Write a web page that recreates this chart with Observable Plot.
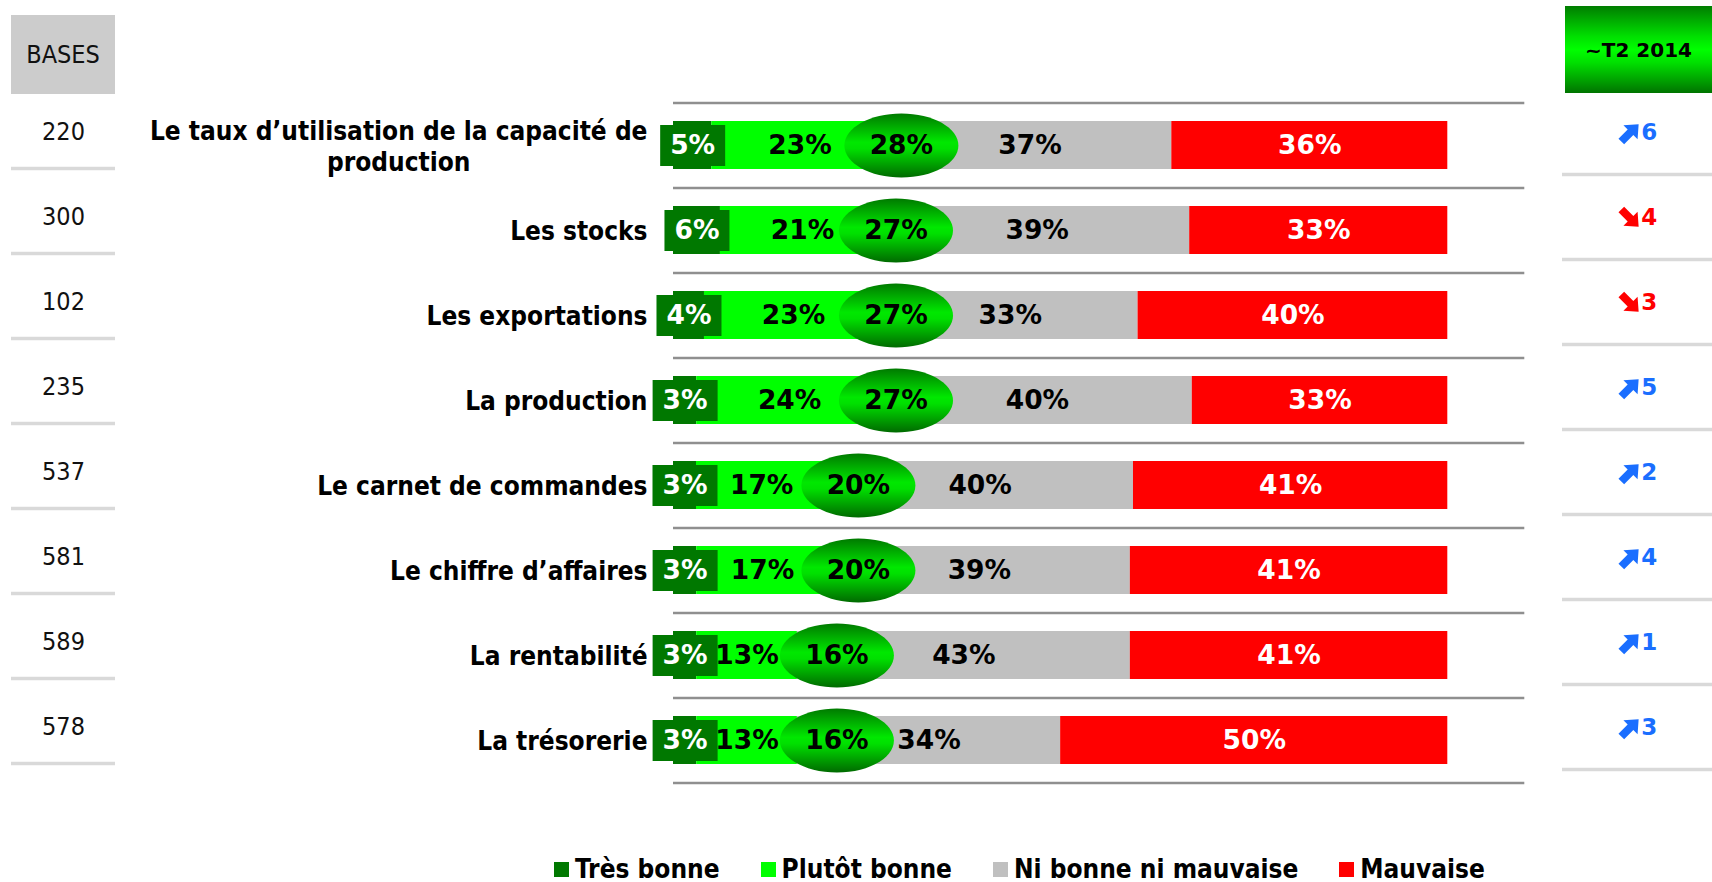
<!DOCTYPE html>
<html><head><meta charset="utf-8">
<script src="https://cdn.jsdelivr.net/npm/d3@7"></script>
<script src="https://cdn.jsdelivr.net/npm/@observablehq/plot@0.6"></script>
<style>
body{margin:0;background:#fff;}
#wrap{position:relative;width:1712px;}
#bases-head{position:absolute;left:11px;top:15px;width:104px;height:79px;background:#cccccc;font:25px "DejaVu Sans Condensed",sans-serif;display:flex;align-items:center;justify-content:center;color:#111;}
#t2-head{position:absolute;left:1565px;top:6px;width:147px;height:87px;background:linear-gradient(#007d00,#00e000 35%,#00ff00 50%,#00e000 65%,#007400);font:bold 20px "DejaVu Sans",sans-serif;display:flex;align-items:center;justify-content:center;color:#000;}
#legend{display:flex;align-items:center;height:32px;margin-top:3px;padding-left:554px;gap:41px;font:bold 26px "DejaVu Sans Condensed","DejaVu Sans",sans-serif;color:#000;}
.item{display:flex;align-items:center;white-space:nowrap;}
.sw{width:15px;height:15px;margin-right:6px;}
</style></head><body>
<div id="wrap"><div id="chart"></div><div id="bases-head">BASES</div><div id="t2-head">~T2 2014</div></div>
<div id="legend"></div>
<script>
// ---- data ----
const categories = [
  "Le taux d’utilisation de la capacité de\nproduction",
  "Les stocks",
  "Les exportations",
  "La production",
  "Le carnet de commandes",
  "Le chiffre d’affaires",
  "La rentabilité",
  "La trésorerie"
];
const seriesNames = ["Très bonne", "Plutôt bonne", "Ni bonne ni mauvaise", "Mauvaise"];
const seriesColors = ["#007800", "#00ff00", "#c0c0c0", "#ff0000"];
const tresBonne   = [5, 6, 4, 3, 3, 3, 3, 3];
const plutotBonne = [23, 21, 23, 24, 17, 17, 13, 13];
const niBonne     = [37, 39, 33, 40, 40, 39, 43, 34];
const mauvaise    = [36, 33, 40, 33, 41, 41, 41, 50];
const totalBonne  = [28, 27, 27, 27, 20, 20, 16, 16];
const bases       = [220, 300, 102, 235, 537, 581, 589, 578];
const evolution   = [6, -4, -3, 5, 2, 4, 1, 3];
const whiteLabelSeries = ["Très bonne", "Mauvaise"];

// ---- tables built from the arrays ----
const seriesValues = [tresBonne, plutotBonne, niBonne, mauvaise];
const rows = categories.flatMap((cat, i) =>
  seriesNames.map((s, j) => ({cat, series: s, value: seriesValues[j][i]})));
const catRows = categories.map((cat, i) => ({cat, total: totalBonne[i], base: bases[i], evol: evolution[i]}));

// secondary axis used by the "total bonne" ellipse markers (in bar-fraction units)
const ellipseAxis = d3.scaleLinear([0, 100], [0.10, 0.794]);

const stack = (o) => Plot.stackX({offset: "normalize", x: "value", y: "cat", z: "series", ...o});

const boxSymbol = {draw(ctx) { ctx.rect(-32.5, -20.5, 65, 41); }};
const ellipseSymbol = {draw(ctx) {
  const rx = 57, ry = 32, k = 0.5523;
  ctx.moveTo(rx, 0);
  ctx.bezierCurveTo(rx, k * ry, k * rx, ry, 0, ry);
  ctx.bezierCurveTo(-k * rx, ry, -rx, k * ry, -rx, 0);
  ctx.bezierCurveTo(-rx, -k * ry, -k * rx, -ry, 0, -ry);
  ctx.bezierCurveTo(k * rx, -ry, rx, -k * ry, rx, 0);
  ctx.closePath();
}};
// heavy diagonal arrow (pointing along angle a, in degrees, SVG orientation)
function arrowSymbol(a) {
  const pts = [[-12, -4], [1, -4], [1, -10], [12.5, 0], [1, 10], [1, 4], [-12, 4]];
  const r = a * Math.PI / 180, c = Math.cos(r), s = Math.sin(r);
  return {draw(ctx) {
    pts.forEach(([x, y], i) => {
      const X = x * c - y * s, Y = x * s + y * c;
      if (i) ctx.lineTo(X, Y); else ctx.moveTo(X, Y);
    });
    ctx.closePath();
  }};
}
const upColor = "#1a6eff", downColor = "#ff0000";

const pctFont = {fontFamily: "DejaVu Sans", fontWeight: "bold", fontSize: 26.5};

const svg = Plot.plot({
  width: 1712, height: 850,
  marginLeft: 673, marginRight: 264.7, marginTop: 102.3, marginBottom: 67.7,
  x: {domain: [0, 1], axis: null},
  y: {domain: categories, axis: null, paddingInner: 0.43, paddingOuter: 0.215},
  color: {type: "identity"},
  marks: [
    // separators of the bar area
    Plot.ruleY(categories, {y: d => d, dy: 42.5, insetRight: -77, stroke: "#8f8f8f", strokeWidth: 2.5}),
    Plot.ruleY(categories.slice(0, 1), {y: d => d, dy: -42.5, insetRight: -77, stroke: "#8f8f8f", strokeWidth: 2.5}),
    // separators of the side tables
    Plot.ruleY(categories, {y: d => d, dy: 23, insetLeft: -662, insetRight: 1332.3, stroke: "#d9d9d9", strokeWidth: 3.5}),
    Plot.ruleY(categories, {y: d => d, dy: 29, insetLeft: 889, insetRight: -264.7, stroke: "#d9d9d9", strokeWidth: 3.5}),
    // stacked bars
    Plot.barX(rows, stack({fill: d => seriesColors[seriesNames.indexOf(d.series)]})),
    // label box of the "Très bonne" segment
    Plot.dot(rows, stack({symbol: boxSymbol, stroke: "none",
      fill: d => d.series === seriesNames[0] ? seriesColors[0] : "none"})),
    // segment labels
    Plot.text(rows, stack({text: d => whiteLabelSeries.includes(d.series) ? d.value + "%" : null, fill: "white", ...pctFont})),
    Plot.text(rows, stack({text: d => whiteLabelSeries.includes(d.series) ? null : d.value + "%", fill: "black", ...pctFont})),
    // total "bonne" ellipses
    Plot.dot(catRows, {x: d => ellipseAxis(d.total), y: "cat", symbol: ellipseSymbol, fill: "url(#ellGrad)", stroke: "none"}),
    Plot.text(catRows, {x: d => ellipseAxis(d.total), y: "cat", text: d => d.total + "%", fill: "black", ...pctFont}),
    // category labels
    Plot.text(catRows, {y: "cat", text: "cat", frameAnchor: "left", textAnchor: "end", dx: -26, lineHeight: 1.2,
      fontFamily: "DejaVu Sans Condensed", fontWeight: "bold", fontSize: 26, fill: "black"}),
    // bases column
    Plot.text(catRows, {y: "cat", text: d => String(d.base), frameAnchor: "left", textAnchor: "middle", dx: -610, dy: -14,
      fontFamily: "DejaVu Sans Condensed", fontSize: 25, fill: "#111"}),
    // evolution column: arrows + values
    Plot.dot(catRows.filter(d => d.evol > 0), {y: "cat", frameAnchor: "right", dx: 182, dy: -12.5,
      symbol: arrowSymbol(-45), fill: upColor, stroke: "none"}),
    Plot.dot(catRows.filter(d => d.evol < 0), {y: "cat", frameAnchor: "right", dx: 182, dy: -12.5,
      symbol: arrowSymbol(45), fill: downColor, stroke: "none"}),
    Plot.text(catRows, {y: "cat", text: d => String(Math.abs(d.evol)), frameAnchor: "right", textAnchor: "start", dx: 193.5, dy: -12.5,
      fontFamily: "DejaVu Sans", fontWeight: "bold", fontSize: 23, fill: d => d.evol > 0 ? upColor : downColor})
  ]
});

// gradient for the ellipses
const ns = "http://www.w3.org/2000/svg";
const defs = document.createElementNS(ns, "defs");
defs.innerHTML = '<linearGradient id="ellGrad" x1="0" y1="0" x2="0" y2="1">' +
  '<stop offset="0" stop-color="#007a00"/><stop offset="0.45" stop-color="#00e800"/>' +
  '<stop offset="0.55" stop-color="#00e000"/><stop offset="1" stop-color="#006a00"/></linearGradient>';
svg.insertBefore(defs, svg.firstChild);
document.getElementById("chart").append(svg);

// centre multi-line category labels as a block
svg.querySelectorAll("text").forEach(t => {
  const spans = t.querySelectorAll("tspan");
  if (spans.length > 1) {
    const w = Math.max(...Array.from(spans, s => s.getComputedTextLength()));
    t.setAttribute("text-anchor", "middle");
    spans.forEach(s => s.setAttribute("x", (parseFloat(s.getAttribute("x")) || 0) - w / 2));
  }
});

// legend
const legend = document.getElementById("legend");
seriesNames.forEach((s, i) => {
  const it = document.createElement("div"); it.className = "item";
  const sw = document.createElement("div"); sw.className = "sw"; sw.style.background = seriesColors[i];
  const tx = document.createElement("span"); tx.textContent = s;
  it.append(sw, tx); legend.append(it);
});
</script></body></html>
